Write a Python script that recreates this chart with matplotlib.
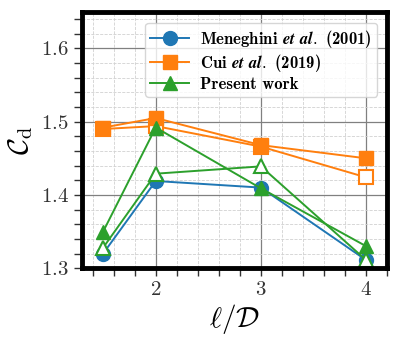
import numpy as np
import matplotlib
matplotlib.use('Agg')
import matplotlib.pyplot as plt
from matplotlib.ticker import MultipleLocator

# spacing ratio l/D
ratio = [1.5, 2.0, 3.0, 4.0]

# drag coefficients
cd_meneghini = [1.320, 1.419, 1.410, 1.311]
cd_cui = [1.492, 1.505, 1.468, 1.450]
cd_cui_open = [1.490, 1.494, 1.466, 1.424]
cd_present = [1.350, 1.492, 1.409, 1.330]
cd_present_open = [1.328, 1.429, 1.439, 1.311]

plt.rcParams['font.family'] = 'cmr10'
plt.rcParams['mathtext.fontset'] = 'cm'
plt.rcParams['axes.formatter.use_mathtext'] = True

fig = plt.figure(figsize=(3.93, 3.39), dpi=100)
ax = fig.add_axes([0.209, 0.209, 0.776, 0.756])

lw, ms = 1.4, 10
ax.plot(ratio, cd_meneghini, '-o', color='C0', lw=lw, ms=ms,
        label=r'Meneghini $\boldsymbol{et\ al.}$ (2001)')
ax.plot(ratio, cd_cui_open, '-s', color='C1', lw=lw, ms=ms,
        mfc='white', mew=1.5)
ax.plot(ratio, cd_cui, '-s', color='C1', lw=lw, ms=ms,
        label=r'Cui $\boldsymbol{et\ al.}$ (2019)')
ax.plot(ratio, cd_present, '-^', color='C2', lw=lw, ms=ms,
        label='Present work')
ax.plot(ratio, cd_present_open, '-^', color='C2', lw=lw, ms=ms,
        mfc='white', mew=1.5)

ax.set_xlim(1.3, 4.2)
ax.set_ylim(1.3, 1.65)
ax.xaxis.set_major_locator(MultipleLocator(1))
ax.xaxis.set_minor_locator(MultipleLocator(0.2))
ax.yaxis.set_major_locator(MultipleLocator(0.1))
ax.yaxis.set_minor_locator(MultipleLocator(0.02))
ax.tick_params(which='both', direction='out', length=6, width=1,
               labelsize=15, colors='0.2', labelcolor='0.2')

ax.grid(which='major', color='0.5', lw=0.9, ls='-')
ax.grid(which='minor', color='0.82', lw=0.6, ls='--')
ax.set_axisbelow(True)
for s in ax.spines.values():
    s.set_linewidth(3.5)

ax.set_xlabel(r'$\ell/\mathcal{D}$', fontsize=21, labelpad=2)
ax.set_ylabel(r'$\mathcal{C}_\mathrm{d}$', fontsize=21, labelpad=4)

leg = ax.legend(loc='upper right', prop={'family': 'cmb10', 'size': 12},
                handlelength=2.3, borderpad=0.3, labelspacing=0.15,
                handletextpad=0.7, bbox_to_anchor=(0.995, 0.99))

fig.savefig('out.png', dpi=100)
